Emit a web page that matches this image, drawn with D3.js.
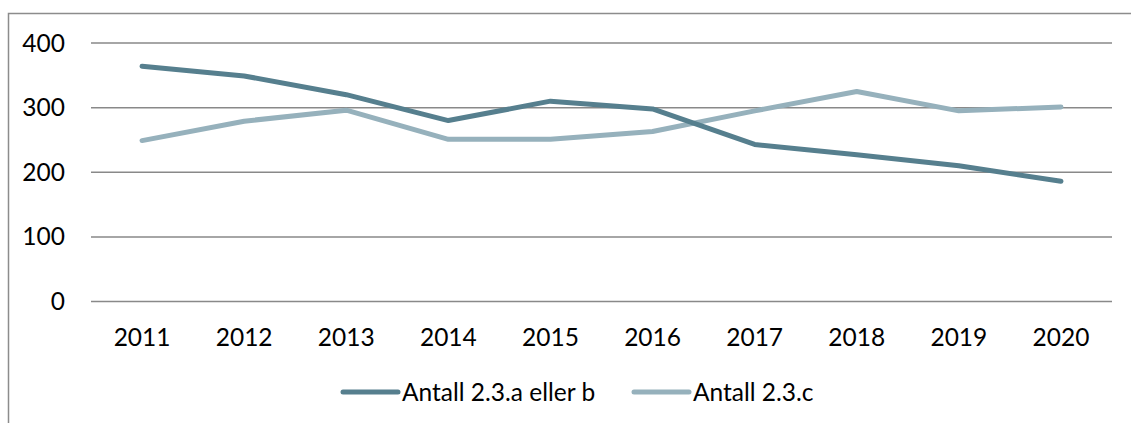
<!DOCTYPE html>
<html>
<head>
<meta charset="utf-8">
<script src="https://cdn.jsdelivr.net/npm/d3@7"></script>
<style>
body { margin: 0; background: #fff; }
svg { display: block; }
</style>
</head>
<body>
<div id="chart"></div>
<script>
var years = ['2011','2012','2013','2014','2015','2016','2017','2018','2019','2020']
var antallAB = [364, 349, 320, 280, 310, 298, 243, 227, 210, 186]
var antallC = [249, 279, 296, 251, 251, 263, 295, 325, 295, 301]
var yTicks = [0, 100, 200, 300, 400]
var seriesNames = ['Antall 2.3.a eller b', 'Antall 2.3.c']
var colors = ['#567f8e', '#96b1bc']

var chart_width = 1131
var chart_height = 423
var font = 'Lato, "Open Sans", sans-serif'
var font_size = 24.5

var svg = d3.select('#chart')
    .append('svg')
    .attr('width', chart_width)
    .attr('height', chart_height)

// outer frame
svg.append('rect')
    .attr('x', 8.5)
    .attr('y', 13.5)
    .attr('width', 1200)
    .attr('height', 500)
    .attr('fill', 'none')
    .attr('stroke', '#8c8c8c')
    .attr('stroke-width', 1.5)

var x = d3.scaleBand()
    .domain(years)
    .range([91, 1112])

var y = d3.scaleLinear()
    .domain([0, 400])
    .range([301.5, 43])

// gridlines
svg.selectAll('.grid')
    .data(yTicks)
    .enter()
    .append('line')
    .attr('x1', 91)
    .attr('x2', 1112)
    .attr('y1', function(d){ return y(d) })
    .attr('y2', function(d){ return y(d) })
    .attr('stroke', '#898989')
    .attr('stroke-width', 1.5)

svg.selectAll('.ylab')
    .data(yTicks)
    .enter()
    .append('text')
    .text(function(d){ return d })
    .attr('x', 65)
    .attr('y', function(d){ return y(d) })
    .attr('dy', '0.35em')
    .attr('text-anchor', 'end')
    .attr('font-family', font)
    .attr('font-size', font_size)
    .attr('fill', '#000')

svg.selectAll('.xlab')
    .data(years)
    .enter()
    .append('text')
    .text(function(d){ return d })
    .attr('x', function(d){ return x(d) + x.bandwidth() / 2 })
    .attr('y', 337)
    .attr('dy', '0.35em')
    .attr('text-anchor', 'middle')
    .attr('font-family', font)
    .attr('font-size', font_size)
    .attr('fill', '#000')

var line = d3.line()
    .x(function(d, i){ return x(years[i]) + x.bandwidth() / 2 })
    .y(function(d){ return y(d) })

// light series drawn first, dark on top
;[antallC, antallAB].forEach(function(vals, k){
    svg.append('path')
        .datum(vals)
        .attr('d', line)
        .attr('fill', 'none')
        .attr('stroke', k === 0 ? colors[1] : colors[0])
        .attr('stroke-width', 5)
        .attr('stroke-linecap', 'round')
        .attr('stroke-linejoin', 'round')
})

// legend
var legendX = [343, 634]
seriesNames.forEach(function(name, i){
    svg.append('line')
        .attr('x1', legendX[i])
        .attr('x2', legendX[i] + 55)
        .attr('y1', 392)
        .attr('y2', 392)
        .attr('stroke', colors[i])
        .attr('stroke-width', 5)
        .attr('stroke-linecap', 'round')
    svg.append('text')
        .text(name)
        .attr('x', legendX[i] + 59)
        .attr('y', 392)
        .attr('dy', '0.35em')
        .attr('font-family', font)
        .attr('font-size', font_size)
        .attr('fill', '#000')
})
</script>
</body>
</html>
